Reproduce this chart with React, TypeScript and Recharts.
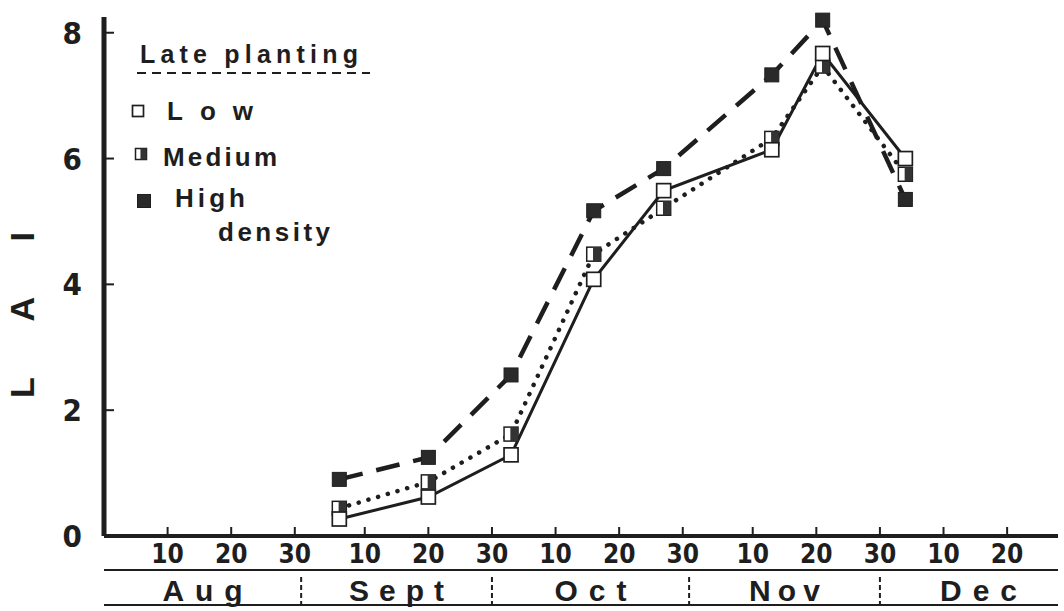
import React from 'react';
import { LineChart, Line, XAxis, YAxis } from 'recharts';

// sampling dates as days after 31 July
const sampleDays = [37, 51, 64, 77, 88, 105, 113, 126];
const lowLai = [0.27, 0.62, 1.29, 4.08, 5.49, 6.14, 7.67, 6.0];
const mediumLai = [0.44, 0.86, 1.62, 4.48, 5.21, 6.32, 7.47, 5.75];
const highLai = [0.9, 1.25, 2.56, 5.17, 5.84, 7.33, 8.2, 5.35];

const dayTicks = [10, 20, 30, 41, 51, 61, 71, 81, 91, 102, 112, 122, 132, 142];
const dayTickLabels = ['10', '20', '30', '10', '20', '30', '10', '20', '30', '10', '20', '30', '10', '20'];
const laiTicks = [0, 2, 4, 6, 8];

const monthNames = ['Aug', 'Sept', 'Oct', 'Nov', 'Dec'];
const monthStarts = [0, 31, 61, 92, 122];
const monthEnds = [31, 61, 92, 122, 153];
const monthLabelWidths = [80, 95, 72, 71, 77];

const INK = '#1e1e1e';
const NARROW = "'Liberation Sans Narrow', 'DejaVu Sans Condensed', 'Liberation Sans', Arial, sans-serif";
const SANS = "'Liberation Sans', Arial, Helvetica, sans-serif";

const rows = sampleDays.map((day, i) => ({
  day,
  low: lowLai[i],
  medium: mediumLai[i],
  high: highLai[i],
}));

const monthCenters = monthStarts.map((s, i) => (s + monthEnds[i]) / 2);
const monthBreaks = monthStarts.slice(1);
const monthTicks = [...monthCenters, ...monthBreaks];

type Kind = 'low' | 'medium' | 'high';

const Square = ({ cx, cy, kind, size = 14 }: { cx: number; cy: number; kind: Kind; size?: number }) => {
  const h = size / 2;
  if (kind === 'high') {
    return <rect x={cx - h} y={cy - h} width={size} height={size} fill="#2a2a2a" stroke={INK} strokeWidth={1} />;
  }
  if (kind === 'medium') {
    return (
      <g>
        <rect x={cx - h} y={cy - h} width={size} height={size} fill="#fff" stroke={INK} strokeWidth={1.5} />
        <rect x={cx - size * 0.05} y={cy - h} width={size * 0.55} height={size} fill="#333" />
      </g>
    );
  }
  return <rect x={cx - h} y={cy - h} width={size} height={size} fill="#fff" stroke={INK} strokeWidth={1.7} />;
};

const DayTick = (props: any) => {
  const { x, y, payload } = props;
  const label = dayTickLabels[dayTicks.indexOf(payload.value)];
  return (
    <g>
      <line x1={x} x2={x} y1={y} y2={y - 9} stroke={INK} strokeWidth={2} />
      <text x={x} y={y + 27} textAnchor="middle" fontFamily={NARROW} fontWeight="bold" fontSize={26} fill={INK}>
        {label}
      </text>
    </g>
  );
};

const MonthTick = (props: any) => {
  const { x, y, payload } = props;
  const b = monthBreaks.indexOf(payload.value);
  if (b >= 0) {
    return <line x1={x} x2={x} y1={y + 7} y2={y + 34} stroke={INK} strokeWidth={2} strokeDasharray="5 3" />;
  }
  const m = monthCenters.indexOf(payload.value);
  return (
    <text
      x={x}
      y={y + 31}
      textAnchor="middle"
      fontFamily={SANS}
      fontWeight="bold"
      fontSize={30}
      fill={INK}
      textLength={monthLabelWidths[m]}
      lengthAdjust="spacing"
    >
      {monthNames[m]}
    </text>
  );
};

const LaiTick = (props: any) => {
  const { x, y, payload } = props;
  return (
    <g>
      <line x1={x} x2={x + 10} y1={y} y2={y} stroke={INK} strokeWidth={2} />
      <text x={x - 22} y={y + 11} textAnchor="end" fontFamily={NARROW} fontWeight="bold" fontSize={31} fill={INK}>
        {payload.value}
      </text>
    </g>
  );
};

const AxisTitle = () => (
  <text
    transform="translate(22, 315) rotate(-90)"
    textAnchor="middle"
    dominantBaseline="central"
    fontFamily={SANS}
    fontWeight="bold"
    fontSize={34}
    fill={INK}
    textLength={166}
    lengthAdjust="spacing"
  >
    LAI
  </text>
);

const legendItems: { kind: Kind; label: string; mx: number; my: number; tx: number; ty: number; w: number }[] = [
  { kind: 'low', label: 'Low', mx: 138, my: 111, tx: 167, ty: 120, w: 86 },
  { kind: 'medium', label: 'Medium', mx: 141, my: 154, tx: 163, ty: 166, w: 114 },
  { kind: 'high', label: 'High', mx: 144, my: 201, tx: 175, ty: 207, w: 70 },
];

const Overlay = () => (
  <svg width={1064} height={611} style={{ position: 'absolute', left: 0, top: 0, pointerEvents: 'none' }}>
    <text x={140} y={63} fontFamily={SANS} fontWeight="bold" fontSize={25} fill={INK} textLength={218} lengthAdjust="spacing">
      Late planting
    </text>
    <line x1={137} x2={370} y1={73} y2={73} stroke={INK} strokeWidth={2} strokeDasharray="9 6" />
    {legendItems.map((it) => (
      <g key={it.kind}>
        <Square cx={it.mx} cy={it.my} kind={it.kind} size={it.kind === 'high' ? 13 : 11} />
        <text x={it.tx} y={it.ty} fontFamily={SANS} fontWeight="bold" fontSize={26} fill={INK} textLength={it.w} lengthAdjust="spacing">
          {it.label}
        </text>
      </g>
    ))}
    <text x={218} y={241} fontFamily={SANS} fontWeight="bold" fontSize={26} fill={INK} textLength={112} lengthAdjust="spacing">
      density
    </text>
    <line x1={104} x2={1058} y1={605} y2={605} stroke={INK} strokeWidth={2} />
  </svg>
);

export default function App() {
  return (
    <div style={{ position: 'absolute', left: 0, top: 0, width: 1064, height: 611, background: '#fff' }}>
      <LineChart width={1064} height={611} data={rows} margin={{ top: 17, right: 6, left: 0, bottom: 0 }}>
        <XAxis
          xAxisId="d"
          type="number"
          dataKey="day"
          domain={[0, 150]}
          ticks={dayTicks}
          interval={0}
          height={34}
          tickSize={0}
          tickMargin={0}
          tickLine={false}
          tick={<DayTick />}
          axisLine={{ stroke: INK, strokeWidth: 4 }}
        />
        <XAxis
          xAxisId="m"
          type="number"
          dataKey="day"
          domain={[0, 150]}
          ticks={monthTicks}
          interval={0}
          height={41}
          tickSize={0}
          tickMargin={0}
          tickLine={false}
          tick={<MonthTick />}
          axisLine={{ stroke: INK, strokeWidth: 2 }}
        />
        <YAxis
          type="number"
          domain={[0, 8.25]}
          ticks={laiTicks}
          interval={0}
          width={104}
          tickSize={0}
          tickMargin={0}
          tickLine={false}
          tick={<LaiTick />}
          axisLine={{ stroke: INK, strokeWidth: 5 }}
          label={{ content: <AxisTitle /> }}
        />
        <Line
          xAxisId="d"
          type="linear"
          dataKey="high"
          stroke={INK}
          strokeWidth={4.5}
          strokeDasharray="24 14"
          isAnimationActive={false}
          dot={(p: any) => <Square key={`h${p.index}`} cx={p.cx} cy={p.cy} kind="high" />}
        />
        <Line
          xAxisId="d"
          type="linear"
          dataKey="medium"
          stroke={INK}
          strokeWidth={4.5}
          strokeDasharray="0.1 10"
          strokeLinecap="round"
          isAnimationActive={false}
          dot={(p: any) => <Square key={`m${p.index}`} cx={p.cx} cy={p.cy} kind="medium" />}
        />
        <Line
          xAxisId="d"
          type="linear"
          dataKey="low"
          stroke={INK}
          strokeWidth={3}
          isAnimationActive={false}
          dot={(p: any) => <Square key={`l${p.index}`} cx={p.cx} cy={p.cy} kind="low" />}
        />
      </LineChart>
      <Overlay />
    </div>
  );
}
